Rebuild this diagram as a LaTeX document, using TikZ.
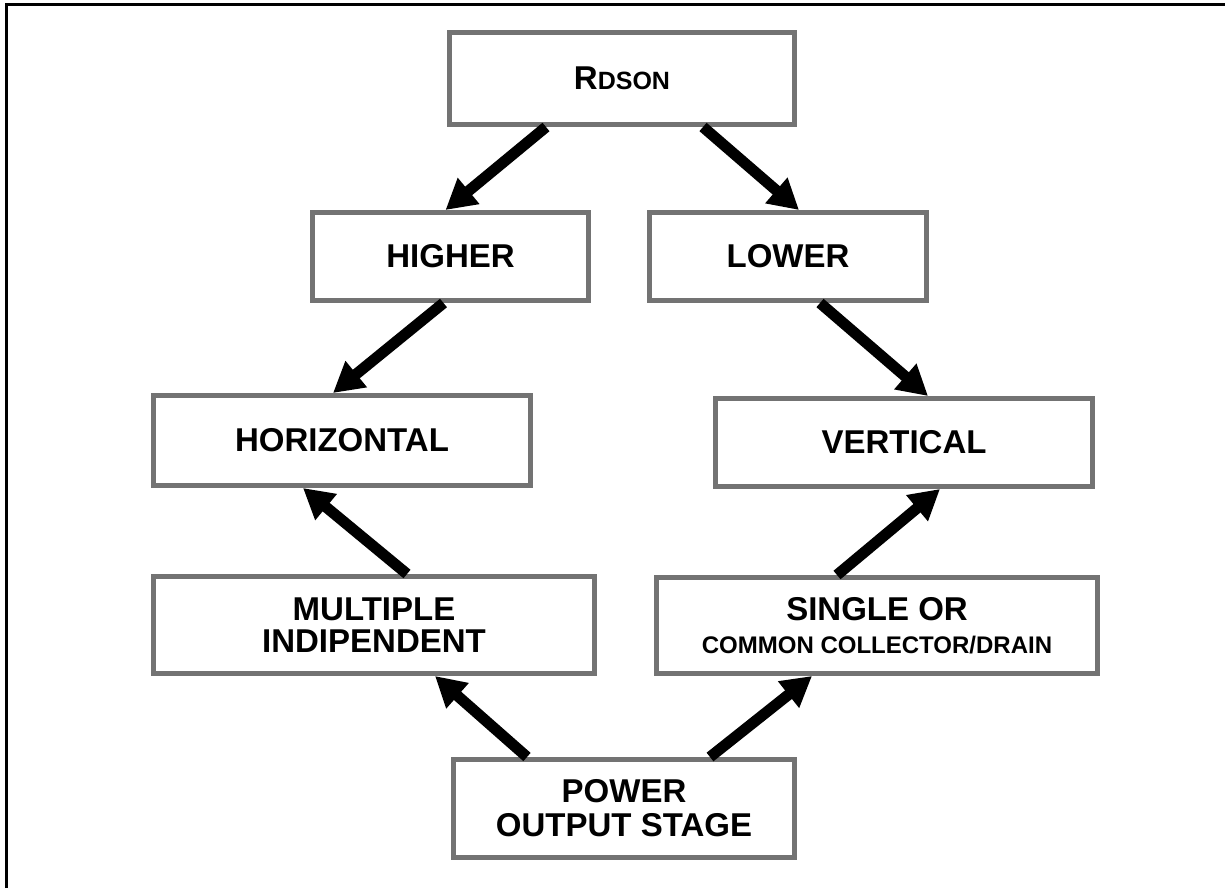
\documentclass[tikz,border=0pt]{standalone}
\usepackage{fontspec}
\setmainfont{Liberation Sans}
\usetikzlibrary{arrows.meta}
\tikzset{
  box/.style={draw=black!55, line width=5pt, fill=white, align=center, inner sep=0pt,
    font=\fontsize{33}{33}\selectfont\bfseries},
  flow/.style={line width=11pt, -{Triangle[length=30pt,width=32pt]}},
}
\begin{document}
\begin{tikzpicture}[x=1pt,y=-1pt]
\useasboundingbox (0,0) rectangle (1225,888);
\draw[line width=3pt] (6,888) -- (6,5) -- (1225,5);

\node[box, minimum width=345pt, minimum height=92pt] (rdson) at (622,78.5)
  {R{\fontsize{25}{25}\selectfont DSON}};
\node[box, minimum width=276pt, minimum height=88pt] (hig) at (450.5,256.5) {HIGHER};
\node[box, minimum width=277pt, minimum height=88pt] (low) at (788,256.5) {LOWER};
\node[box, minimum width=377pt, minimum height=90pt] (hor) at (342,440.5) {HORIZONTAL};
\node[box, minimum width=377pt, minimum height=88pt] (ver) at (904,442.5) {VERTICAL};
\node[box, minimum width=441pt, minimum height=97pt, font=\fontsize{33}{32}\selectfont\bfseries] (mul) at (374,625)
  {MULTIPLE\\INDIPENDENT};
\node[box, minimum width=441pt, minimum height=96pt, font=\fontsize{33}{33}\selectfont\bfseries] (sin) at (877,625.5)
  {SINGLE OR\\{\fontsize{24}{24}\selectfont COMMON COLLECTOR/DRAIN}};
\node[box, minimum width=341pt, minimum height=98pt, font=\fontsize{33}{34}\selectfont\bfseries] (pow) at (624,808.5)
  {POWER\\OUTPUT STAGE};

\draw[flow] ([xshift=-76pt]rdson.south) -- ([xshift=-5pt]hig.north);
\draw[flow] ([xshift=81pt]rdson.south) -- ([xshift=11pt]low.north);
\draw[flow] ([xshift=-7pt]hig.south) -- ([xshift=-9pt]hor.north);
\draw[flow] ([xshift=32pt]low.south) -- ([xshift=24pt]ver.north);
\draw[flow] ([xshift=33pt]mul.north) -- ([xshift=-39pt]hor.south);
\draw[flow] ([xshift=-40pt]sin.north) -- ([xshift=36pt]ver.south);
\draw[flow] ([xshift=-97pt]pow.north) -- ([xshift=61pt]mul.south);
\draw[flow] ([xshift=86pt]pow.north) -- ([xshift=-65pt]sin.south);
\end{tikzpicture}
\end{document}
